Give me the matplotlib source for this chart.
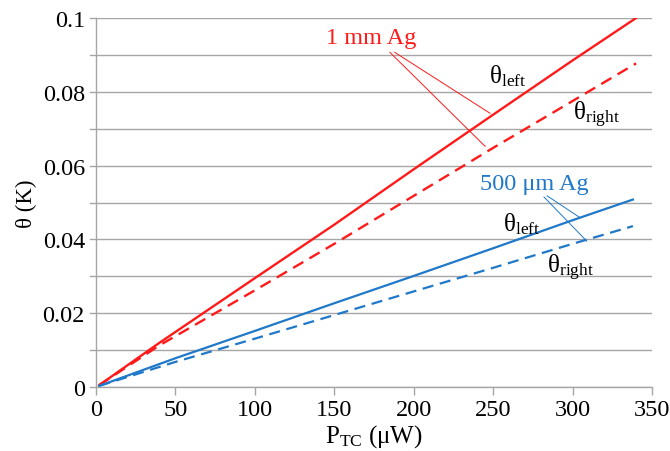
import matplotlib
matplotlib.use("Agg")
import matplotlib.pyplot as plt
import numpy as np

plt.rcParams['font.family'] = ['Liberation Serif', 'DejaVu Serif']
plt.rcParams['mathtext.fontset'] = 'custom'
plt.rcParams['mathtext.rm'] = 'Liberation Serif'
plt.rcParams['mathtext.it'] = 'Liberation Serif:italic'

# data (power in µW, theta in K)
p_1mm = [2, 40, 100, 150, 200, 250, 300, 340]
left_1mm = [0.0005, 0.0120, 0.0295, 0.0440, 0.0590, 0.0738, 0.0885, 0.1000]
right_1mm = [0.0005, 0.0113, 0.0262, 0.0388, 0.0518, 0.0648, 0.0775, 0.0877]
p_500 = [2, 50, 100, 150, 200, 250, 300, 338]
left_500 = [0.0003, 0.0078, 0.0152, 0.0227, 0.0301, 0.0376, 0.0452, 0.0508]
right_500 = [0.0003, 0.0068, 0.0131, 0.0195, 0.0259, 0.0323, 0.0388, 0.0436]

xticks = [0, 50, 100, 150, 200, 250, 300, 350]
yticks = [0, 0.02, 0.04, 0.06, 0.08, 0.1]
ytick_labels = ['0', '0.02', '0.04', '0.06', '0.08', '0.1']

red = '#ff1a1a'
blue = '#1f78c8'
grid = '#a6a6a6'

fig = plt.figure(figsize=(6.7, 4.52), dpi=100)
ax = fig.add_axes([96/670, 1-388/452, (652-96)/670, (388-19)/452])

ax.plot(p_1mm, left_1mm, color=red, lw=1.7)
ax.plot(p_1mm, right_1mm, color=red, lw=1.7, ls=(0, (5, 3)))
ax.plot(p_500, left_500, color=blue, lw=1.6)
ax.plot(p_500, right_500, color=blue, lw=1.6, ls=(0, (5, 3)))

ax.set_xlim(0, 350)
ax.set_ylim(0, 0.1)
ax.set_xticks(xticks)
ax.set_xticklabels([str(v) for v in xticks], fontsize=17.5)
ax.set_yticks(np.arange(0, 0.1001, 0.01), minor=False)
ax.set_yticklabels([ytick_labels[i // 2] if i % 2 == 0 else '' for i in range(11)], fontsize=17.5)
ax.yaxis.grid(True, color=grid, lw=1)
ax.set_axisbelow(True)
for s in ['top', 'right']:
    ax.spines[s].set_visible(False)
for s in ['left', 'bottom']:
    ax.spines[s].set_color(grid)
    ax.spines[s].set_linewidth(1)
ax.tick_params(axis='x', color=grid, length=6, width=1, pad=3)
ax.tick_params(axis='y', length=0, pad=8)
# y tick marks extend left
for yv in np.arange(0, 0.1001, 0.01):
    ax.plot([-6/556*350, 0], [yv, yv], color=grid, lw=1, clip_on=False, zorder=0)

ax.set_xlabel(r'$\mathrm{P_{TC}\ (μW)}$', fontsize=18, labelpad=1)
ax.set_ylabel('θ (K)', fontsize=16.5, labelpad=4)

# annotations
ax.text(173, 0.0948, '1 mm Ag', color=red, fontsize=17.5, ha='center', va='center')
ax.plot([188, 248], [0.0907, 0.0742], color=red, lw=0.7)
ax.plot([185, 245], [0.0907, 0.0652], color=red, lw=0.7)
ax.text(259, 0.0845, r'$\mathrm{θ_{left}}$', color='black', fontsize=18, ha='center', va='center')
ax.text(315, 0.0740, r'$\mathrm{θ_{right}}$', color='black', fontsize=18, ha='center', va='center')

ax.text(276, 0.0552, '500 μm Ag', color=blue, fontsize=17.5, ha='center', va='center')
ax.plot([284, 305], [0.0518, 0.0458], color=blue, lw=0.7)
ax.plot([282, 309], [0.0515, 0.0395], color=blue, lw=0.7)
ax.text(268, 0.0445, r'$\mathrm{θ_{left}}$', color='black', fontsize=18, ha='center', va='center')
ax.text(299, 0.0325, r'$\mathrm{θ_{right}}$', color='black', fontsize=18, ha='center', va='center')

fig.savefig('out.png', dpi=100)
